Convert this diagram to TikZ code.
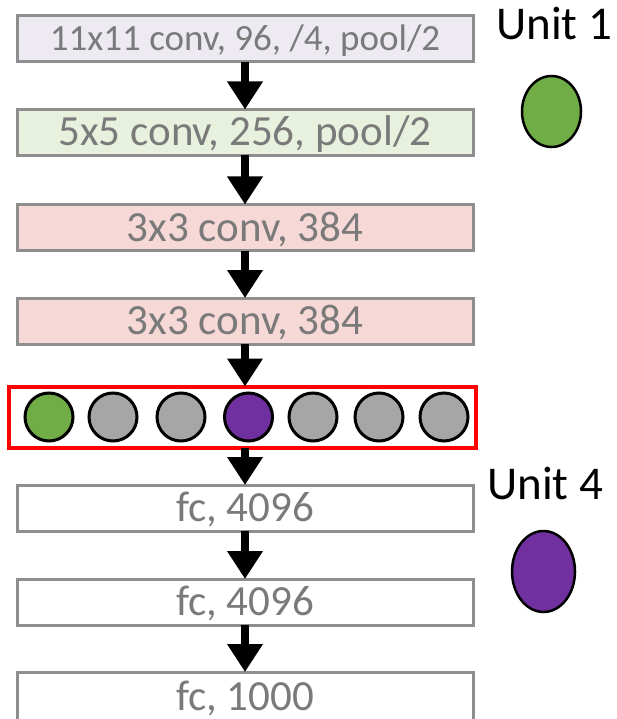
\documentclass[tikz,border=0pt]{standalone}
\usepackage{fontspec}
\setmainfont{Carlito}
\usetikzlibrary{arrows.meta,shapes.geometric}
\definecolor{txtgray}{HTML}{7A7A7A}
\definecolor{boxline}{HTML}{8E8E8E}
\definecolor{lav}{HTML}{EEEAF2}
\definecolor{lgreen}{HTML}{E7F1DE}
\definecolor{lpink}{HTML}{F6D8D6}
\definecolor{ugreen}{HTML}{70AD47}
\definecolor{upurple}{HTML}{7030A0}
\definecolor{ugray}{HTML}{A6A6A6}
\definecolor{redline}{HTML}{FF0000}
\tikzset{
  layer/.style={draw=boxline, line width=3pt, minimum width=456pt, minimum height=46pt,
    inner sep=0pt, outer sep=0pt, text=txtgray, font=\fontsize{43}{43}\selectfont,
    text height=27pt, text depth=0pt, anchor=center},
  flow/.style={line width=8pt, -{Triangle[width=34pt,length=28pt]}},
  unit/.style={draw=black, line width=3pt, minimum width=48pt, minimum height=48pt,
    ellipse, inner sep=0pt, outer sep=0pt},
  bigunit/.style={draw=black, line width=2.5pt, ellipse, inner sep=0pt, outer sep=0pt},
  unitlabel/.style={font=\fontsize{47}{47}\selectfont, text=black, inner sep=0pt, anchor=base west}
}
\begin{document}
\begin{tikzpicture}[x=1pt, y=-1pt]
\useasboundingbox (0,0) rectangle (616,719);
\fill[white] (0,0) rectangle (616,719);
\node[layer, fill=lav, font=\fontsize{37}{37}\selectfont, text height=23pt] (b1) at (245,39) {11x11 conv, 96, /4, pool/2};
\node[layer, fill=lgreen] (b2) at (245,132.5) {5x5 conv, 256, pool/2};
\node[layer, fill=lpink] (b3) at (245,227.5) {3x3 conv, 384};
\node[layer, fill=lpink] (b4) at (245,321) {3x3 conv, 384};
\node[draw=redline, line width=4pt, minimum width=467pt, minimum height=61pt, inner sep=0pt, outer sep=0pt] (red) at (242.5,417) {};
\node[layer, fill=white] (b5) at (245,508) {fc, 4096};
\node[layer, fill=white] (b6) at (245,602) {fc, 4096};
\node[layer, fill=white, minimum height=50pt, text height=27pt] (b7) at (245,697) {fc, 1000};
\node[unit, fill=ugreen] (c1) at (49,417) {};
\node[unit, fill=ugray] (c2) at (113,417) {};
\node[unit, fill=ugray] (c3) at (181,417) {};
\node[unit, fill=upurple] (c4) at (248.5,417) {};
\node[unit, fill=ugray] (c5) at (313,417) {};
\node[unit, fill=ugray] (c6) at (379,417) {};
\node[unit, fill=ugray] (c7) at (444,417) {};
\draw[flow] (b1.south) -- (b2.north);
\draw[flow] (b2.south) -- (b3.north);
\draw[flow] (b3.south) -- (b4.north);
\draw[flow] (b4.south) -- (b4.south |- red.north);
\draw[flow] (b5.north |- red.south) -- (b5.north);
\draw[flow] (b5.south) -- (b6.north);
\draw[flow] (b6.south) -- (b7.north);
\node[unitlabel] (u1) at (496,40) {Unit 1};
\node[bigunit, fill=ugreen, minimum width=59pt, minimum height=71pt] (e1) at (551.5,111.5) {};
\node[unitlabel] (u4) at (487,499) {Unit 4};
\node[bigunit, fill=upurple, minimum width=63pt, minimum height=81pt] (e4) at (543.5,571.5) {};
\end{tikzpicture}
\end{document}
